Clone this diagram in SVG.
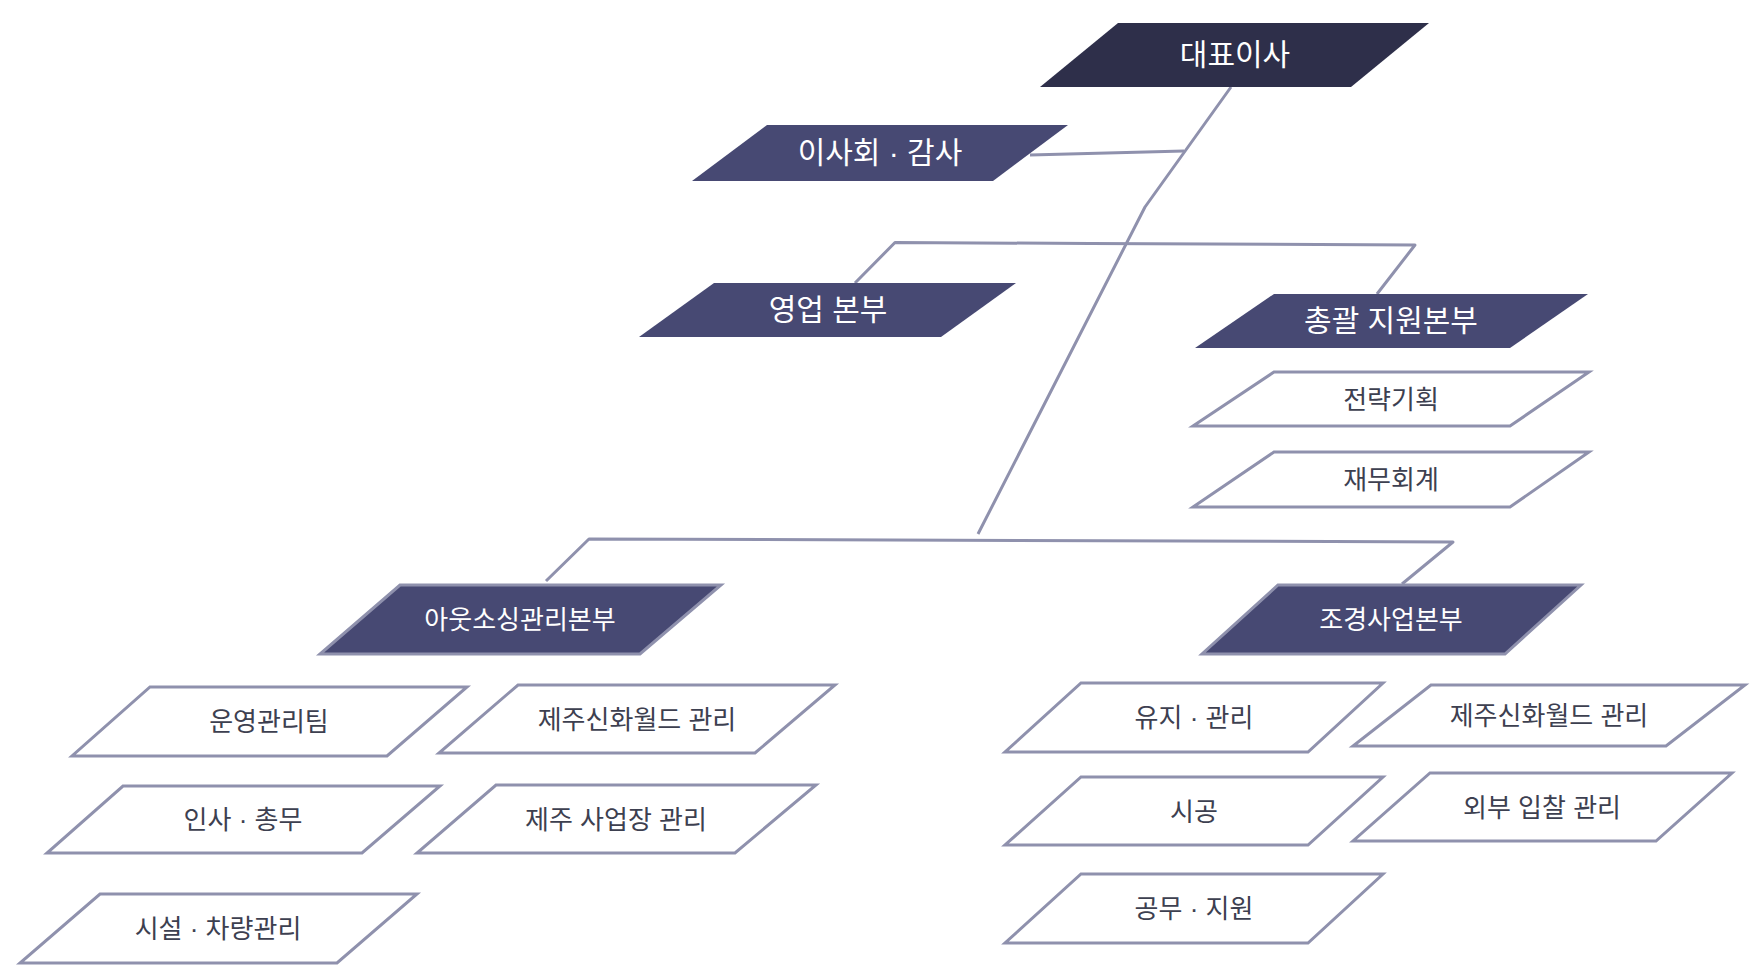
<svg xmlns="http://www.w3.org/2000/svg" width="1758" height="979" viewBox="0 0 1758 979">
<style>
.bg{fill:#ffffff}
.ceo{fill:#2e2f4a}
.hd{fill:#474973}
.hd2{fill:#474973;stroke:#8f91ad;stroke-width:3;stroke-linejoin:miter}
.bx{fill:#ffffff;stroke:#8f91ad;stroke-width:3;stroke-linejoin:miter}
.ln{fill:none;stroke:#8f91ad;stroke-width:3;stroke-linejoin:round;stroke-linecap:butt}
text{font-family:'Liberation Sans','Noto Sans CJK KR',sans-serif;text-anchor:middle;dominant-baseline:central}
.tl{font-size:30px;fill:#ffffff}
.tm{font-size:26px;fill:#ffffff}
.ts{font-size:26px;fill:#3d4050}
</style>
<rect class="bg" x="0" y="0" width="1758" height="979"/>
<g id="connectors">
<polyline class="ln" points="1231,87 1145,207 978,534"/>
<polyline class="ln" points="1030,155 1184,151"/>
<polyline class="ln" points="855,283 895,242.5 1090,243.5 1415,245 1377,294"/>
<polyline class="ln" points="546,581 589,539 1453,542 1402,584"/>
</g>
<g id="ceo">
<polygon class="ceo" points="1118,23 1429,23 1351,87 1040,87"/>
<text class="tl" x="1235" y="54">대표이사</text>
</g>
<g id="board">
<polygon class="hd" points="767,125 1068,125 993,181 692,181"/>
<text class="tl" x="880" y="152">이사회 · 감사</text>
</g>
<g id="sales">
<polygon class="hd" points="714,283 1016,283 941,337 639,337"/>
<text class="tl" x="828" y="309">영업 본부</text>
</g>
<g id="support">
<polygon class="hd" points="1274,294 1588,294 1510,348 1195,348"/>
<text class="tl" x="1391" y="320">총괄 지원본부</text>
</g>
<g id="strategy">
<polygon class="bx" points="1274,372 1589,372 1510,426 1193,426"/>
<text class="ts" x="1391" y="400">전략기획</text>
</g>
<g id="finance">
<polygon class="bx" points="1274,452 1589,452 1510,507 1193,507"/>
<text class="ts" x="1391" y="480">재무회계</text>
</g>
<g id="outsourcing">
<polygon class="hd2" points="400,585 721,585 640,654 320,654"/>
<text class="tm" x="520" y="620">아웃소싱관리본부</text>
</g>
<g id="landscape">
<polygon class="hd2" points="1278,585 1581,585 1505,654 1202,654"/>
<text class="tm" x="1391" y="620">조경사업본부</text>
</g>
<g id="ops">
<polygon class="bx" points="150,687 467,687 387,756 72,756"/>
<text class="ts" x="269" y="722">운영관리팀</text>
</g>
<g id="jeju-world-l">
<polygon class="bx" points="518,685 835,685 755,753 439,753"/>
<text class="ts" x="637" y="720">제주신화월드 관리</text>
</g>
<g id="hr">
<polygon class="bx" points="123,786 440,786 362,853 47,853"/>
<text class="ts" x="243" y="820">인사 · 총무</text>
</g>
<g id="jeju-site">
<polygon class="bx" points="496,785 816,785 735,853 417,853"/>
<text class="ts" x="616" y="820">제주 사업장 관리</text>
</g>
<g id="facility">
<polygon class="bx" points="100,894 417,894 337,963 20,963"/>
<text class="ts" x="218" y="929">시설 · 차량관리</text>
</g>
<g id="maintain">
<polygon class="bx" points="1081,683 1383,683 1308,752 1005,752"/>
<text class="ts" x="1194" y="718">유지 · 관리</text>
</g>
<g id="construct">
<polygon class="bx" points="1081,777 1383,777 1308,845 1005,845"/>
<text class="ts" x="1194" y="812">시공</text>
</g>
<g id="works">
<polygon class="bx" points="1081,874 1383,874 1308,943 1005,943"/>
<text class="ts" x="1194" y="909">공무 · 지원</text>
</g>
<g id="jeju-world-r">
<polygon class="bx" points="1431,685 1745,685 1666,746 1353,746"/>
<text class="ts" x="1549" y="716">제주신화월드 관리</text>
</g>
<g id="bidding">
<polygon class="bx" points="1430,773 1732,773 1656,841 1353,841"/>
<text class="ts" x="1542" y="808">외부 입찰 관리</text>
</g>
</svg>
